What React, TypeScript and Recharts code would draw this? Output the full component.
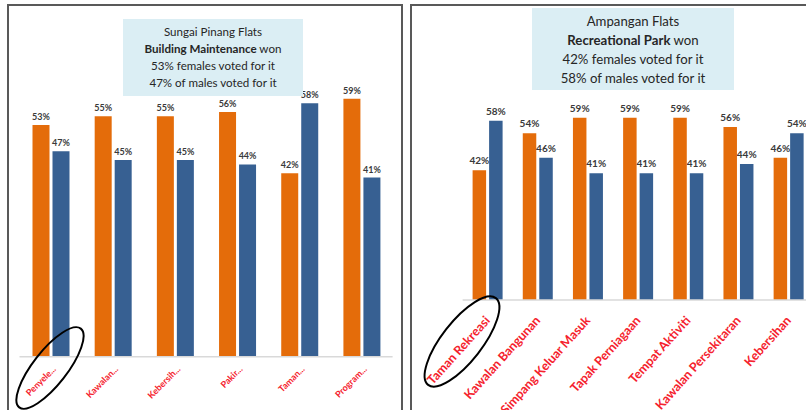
import { BarChart, Bar, XAxis, YAxis, LabelList } from 'recharts'

// Sungai Pinang Flats (left panel)
const spCategories = ['Penyele...', 'Kawalan...', 'Kebersih...', 'Pakir...', 'Taman...', 'Program...']
const spFemale = [53, 55, 55, 56, 42, 59]
const spMale = [47, 45, 45, 44, 58, 41]

// Ampangan Flats (right panel)
const amCategories = [
  'Taman Rekreasi',
  'Kawalan Bangunan',
  'Simpang Keluar Masuk',
  'Tapak Perniagaan',
  'Tempat Aktiviti',
  'Kawalan Persekitaran',
  'Kebersihan',
]
const amFemale = [42, 54, 59, 59, 59, 56, 46]
const amMale = [58, 46, 41, 41, 41, 44, 54]

const spData = spCategories.map((name, i) => ({ name, female: spFemale[i], male: spMale[i] }))
const amData = amCategories.map((name, i) => ({ name, female: amFemale[i], male: amMale[i] }))

const ORANGE = '#E46C0A'
const BLUE = '#376092'
const RED = '#F5222D'
const FONT = 'Lato, "Liberation Sans", sans-serif'

const pct = (v: any) => `${v}%`

function makeTick(fontSize: number, angle: number, dx: number, dy: number) {
  return function Tick(props: any) {
    const { x, y, payload } = props
    return (
      <g transform={`translate(${x + dx},${y + dy})`}>
        <text
          transform={`rotate(${angle})`}
          textAnchor="end"
          fill={RED}
          fontSize={fontSize}
          fontWeight="bold"
          fontFamily={FONT}
        >
          {payload.value}
        </text>
      </g>
    )
  }
}

const SpTick = makeTick(9, -45, 6, 13)
const AmTick = makeTick(12.5, -48, 3, 21)

function InfoBox({ left, top, width, height, size, lh, lines }: any) {
  return (
    <div
      style={{
        position: 'absolute',
        left,
        top,
        width,
        height,
        background: '#DBEEF4',
        fontFamily: FONT,
        fontSize: size,
        lineHeight: `${lh}px`,
        color: '#262626',
        textAlign: 'center',
        boxSizing: 'border-box',
        paddingTop: 4,
      }}
    >
      {lines}
    </div>
  )
}

export default function App() {
  return (
    <div
      style={{
        position: 'absolute',
        left: 0,
        top: 0,
        width: 806,
        height: 410,
        overflow: 'hidden',
        background: '#fff',
      }}
    >
      {/* panel frames */}
      <div style={{ position: 'absolute', left: 7, top: 4, width: 396, height: 440, border: '2px solid #595959', boxSizing: 'border-box' }} />
      <div style={{ position: 'absolute', left: 410, top: 4, width: 440, height: 440, border: '2px solid #595959', boxSizing: 'border-box' }} />

      <div style={{ position: 'absolute', left: 0, top: 0 }}>
        <BarChart
          width={400}
          height={410}
          data={spData}
          margin={{ top: 50.8, right: 7.4, bottom: 13.3, left: 19.5 }}
          barSize={17}
          barGap={3}
        >
          <XAxis
            dataKey="name"
            height={40}
            interval={0}
            tickLine={false}
            tickSize={0}
            tickMargin={0}
            axisLine={{ stroke: '#d9d9d9', strokeWidth: 1.5 }}
            tick={<SpTick />}
          />
          <YAxis hide domain={[0, 70]} />
          <Bar dataKey="female" fill={ORANGE} isAnimationActive={false}>
            <LabelList dataKey="female" position="top" offset={5} formatter={pct} fill="#3a3a3a" fontSize={9} fontWeight="bold" fontFamily={FONT} />
          </Bar>
          <Bar dataKey="male" fill={BLUE} isAnimationActive={false}>
            <LabelList dataKey="male" position="top" offset={5} formatter={pct} fill="#3a3a3a" fontSize={9} fontWeight="bold" fontFamily={FONT} />
          </Bar>
        </BarChart>
      </div>

      <div style={{ position: 'absolute', left: 412, top: 0 }}>
        <BarChart
          width={410}
          height={410}
          data={amData}
          margin={{ top: 83.7, right: 8.2, bottom: 70, left: 50.6 }}
          barSize={13.5}
          barGap={3}
        >
          <XAxis
            dataKey="name"
            height={40}
            interval={0}
            tickLine={false}
            tickSize={0}
            tickMargin={0}
            axisLine={{ stroke: '#d9d9d9', strokeWidth: 1.5 }}
            tick={<AmTick />}
          />
          <YAxis hide domain={[0, 70]} />
          <Bar dataKey="female" fill={ORANGE} isAnimationActive={false}>
            <LabelList dataKey="female" position="top" offset={6} formatter={pct} fill="#3a3a3a" fontSize={10} fontWeight="bold" fontFamily={FONT} />
          </Bar>
          <Bar dataKey="male" fill={BLUE} isAnimationActive={false}>
            <LabelList dataKey="male" position="top" offset={6} formatter={pct} fill="#3a3a3a" fontSize={10} fontWeight="bold" fontFamily={FONT} />
          </Bar>
        </BarChart>
      </div>

      <InfoBox
        left={123}
        top={19}
        width={180}
        height={77}
        size={11.6}
        lh={17}
        lines={
          <>
            <div>Sungai Pinang Flats</div>
            <div><b>Building Maintenance</b> won</div>
            <div>53% females voted for it</div>
            <div>47% of males voted for it</div>
          </>
        }
      />
      <InfoBox
        left={532}
        top={8}
        width={202}
        height={82}
        size={13.2}
        lh={19}
        lines={
          <>
            <div>Ampangan Flats</div>
            <div><b>Recreational Park</b> won</div>
            <div>42% females voted for it</div>
            <div>58% of males voted for it</div>
          </>
        }
      />

      {/* hand-drawn highlight rings */}
      <svg width={806} height={410} style={{ position: 'absolute', left: 0, top: 0, pointerEvents: 'none' }}>
        <ellipse cx={50} cy={368} rx={50} ry={17} transform="rotate(-52 50 368)" fill="none" stroke="#000" strokeWidth={2} />
        <ellipse cx={462} cy={341.5} rx={55} ry={20} transform="rotate(-52 462 341.5)" fill="none" stroke="#000" strokeWidth={2} />
      </svg>
    </div>
  )
}
